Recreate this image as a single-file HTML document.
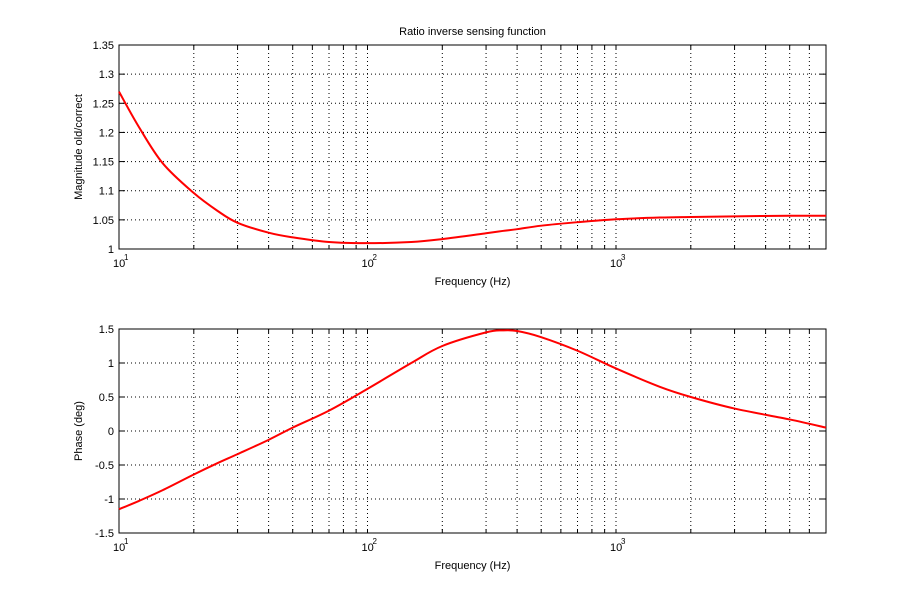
<!DOCTYPE html>
<html><head><meta charset="utf-8"><style>
body{margin:0;background:#fff}
svg text{font-family:"Liberation Sans",sans-serif;font-size:11px;fill:#000}
</style></head><body>
<svg id="c" width="913" height="599" xmlns="http://www.w3.org/2000/svg"></svg>
<script>
const freqs=[10,12,15,20,25,30,40,50,70,100,150,200,300,350,400,500,700,1000,1500,2000,3000,5000,7000];
const magnitude=[1.27,1.21,1.147,1.096,1.065,1.045,1.028,1.02,1.012,1.01,1.012,1.017,1.027,1.031,1.034,1.04,1.046,1.051,1.054,1.055,1.056,1.057,1.057];
const phase=[-1.15,-1.03,-0.87,-0.64,-0.47,-0.34,-0.13,0.05,0.3,0.62,1.0,1.25,1.45,1.48,1.47,1.38,1.18,0.92,0.65,0.5,0.33,0.17,0.05];
const magTicks=[1,1.05,1.1,1.15,1.2,1.25,1.3,1.35];
const magTickLabels=["1","1.05","1.1","1.15","1.2","1.25","1.3","1.35"];
const phTicks=[-1.5,-1,-0.5,0,0.5,1,1.5];
const phTickLabels=["-1.5","-1","-0.5","0","0.5","1","1.5"];
const NS="http://www.w3.org/2000/svg",svg=document.getElementById('c');
function el(t,a,p){const e=document.createElementNS(NS,t);for(const k in a)e.setAttribute(k,a[k]);(p||svg).appendChild(e);return e;}
const L=119,R=826,xmin=10,xmax=7000;
const xs=f=>L+(Math.log10(f)-Math.log10(xmin))/(Math.log10(xmax)-Math.log10(xmin))*(R-L);
function panel(name,T,B,ymin,ymax,ticks,labels,data,ylabel,title){
  const g=el('g',{});
  
  
  const ys=v=>B-(v-ymin)/(ymax-ymin)*(B-T);
  for(let d=10;d<xmax;d*=10)for(let m=1;m<10;m++){const f=d*m;if(f<=xmin||f>=xmax)continue;const x=xs(f);
    const l=el('line',{x1:x,x2:x,y1:T,y2:B,stroke:'#000','stroke-width':1,'stroke-dasharray':'1,3'},g);
    
    el('line',{x1:x,x2:x,y1:B,y2:B-4,stroke:'#000'},g);el('line',{x1:x,x2:x,y1:T,y2:T+4,stroke:'#000'},g);}
  ticks.forEach((v,i)=>{const y=ys(v);
    if(i>0&&i<ticks.length-1){const l=el('line',{x1:L,x2:R,y1:y,y2:y,stroke:'#000','stroke-dasharray':'1,3'},g);
      }
    el('line',{x1:L,x2:L+6,y1:y,y2:y,stroke:'#000'},g);el('line',{x1:R,x2:R-6,y1:y,y2:y,stroke:'#000'},g);
    const t=el('text',{x:L-5,y:y+4,'text-anchor':'end'},g);t.textContent=labels[i];
    });
  [10,100,1000].forEach((f,i)=>{const x=xs(f);const t=el('text',{x:x-6,y:B+18},g);t.textContent='10';
    
    const s=el('text',{x:x+5,y:B+11,style:'font-size:8px'},g);s.textContent=String(i+1);});
  const fr=el('rect',{x:L,y:T,width:R-L,height:B-T,fill:'none',stroke:'#000'},g);
  
  const P=freqs.map((f,i)=>[xs(f),ys(data[i])]);
  let d='M'+P[0][0]+','+P[0][1];
  for(let i=0;i<P.length-1;i++){const p0=P[Math.max(0,i-1)],p1=P[i],p2=P[i+1],p3=P[Math.min(P.length-1,i+2)];
    d+=` C${p1[0]+(p2[0]-p0[0])/6},${p1[1]+(p2[1]-p0[1])/6} ${p2[0]-(p3[0]-p1[0])/6},${p2[1]-(p3[1]-p1[1])/6} ${p2[0]},${p2[1]}`;}
  const c=el('path',{d:d,fill:'none',stroke:'#f00','stroke-width':2},g);
  
  const xl=el('text',{x:(L+R)/2,y:B+36,'text-anchor':'middle'},g);xl.textContent='Frequency (Hz)';
  
  const yl=el('text',{x:0,y:0,'text-anchor':'middle',transform:`translate(82,${(T+B)/2}) rotate(-90)`},g);yl.textContent=ylabel;
  
  if(title){const tt=el('text',{x:(L+R)/2,y:T-10,'text-anchor':'middle'},g);tt.textContent=title;
    }
}
panel('magnitude-panel',45,249,1,1.35,magTicks,magTickLabels,magnitude,'Magnitude old/correct','Ratio inverse sensing function');
panel('phase-panel',329,533,-1.5,1.5,phTicks,phTickLabels,phase,'Phase (deg)',null);
</script>
</body></html>
